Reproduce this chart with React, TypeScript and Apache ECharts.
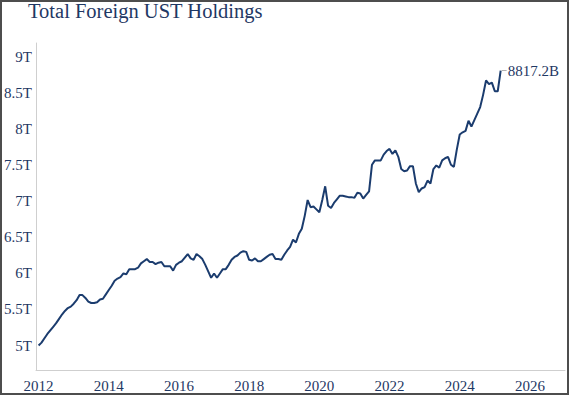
import React, { useEffect, useRef } from "react";
import * as echarts from "echarts";

const TITLE = "Total Foreign UST Holdings";
// First observation: end of Dec 2011, then monthly (month-end) to Feb 2025
const START_YEAR = 2011;
const START_MONTH = 12;
// Total foreign holdings of US Treasuries, trillions USD
const holdingsT = [
  5.0,
  5.04, 5.1, 5.16, 5.21, 5.26, 5.31, 5.37, 5.43, 5.48, 5.52, 5.54, 5.58,
  5.63, 5.7, 5.7, 5.66, 5.61, 5.59, 5.59, 5.6, 5.64, 5.65, 5.71, 5.77,
  5.83, 5.9, 5.93, 5.95, 6.0, 5.99, 6.06, 6.06, 6.06, 6.08, 6.14, 6.17,
  6.2, 6.16, 6.16, 6.13, 6.15, 6.16, 6.1, 6.1, 6.1, 6.04, 6.12, 6.15,
  6.17, 6.22, 6.27, 6.21, 6.19, 6.27, 6.24, 6.2, 6.12, 6.03, 5.94, 6.0,
  5.94, 6.0, 6.06, 6.06, 6.12, 6.19, 6.23, 6.25, 6.29, 6.31, 6.3, 6.19,
  6.18, 6.21, 6.17, 6.17, 6.2, 6.23, 6.26, 6.27, 6.2, 6.2, 6.19, 6.26,
  6.32, 6.37, 6.47, 6.43, 6.55, 6.62, 6.8, 7.02, 6.92, 6.93, 6.89, 6.85,
  7.02, 7.21, 6.94, 6.91, 6.98, 7.03, 7.08, 7.08, 7.07, 7.06, 7.06, 7.05,
  7.12, 7.11, 7.04, 7.09, 7.14, 7.51, 7.57, 7.57, 7.57, 7.65, 7.7, 7.73,
  7.66, 7.71, 7.62, 7.45, 7.42, 7.43, 7.49, 7.49, 7.25, 7.13, 7.18, 7.2,
  7.29, 7.25, 7.45, 7.5, 7.47, 7.57, 7.6, 7.62, 7.51, 7.48, 7.72, 7.93,
  7.96, 7.98, 8.12, 8.04, 8.13, 8.22, 8.31, 8.48, 8.68, 8.63, 8.65, 8.53,
  8.53, 8.8172,
];
const yTicks = [5, 5.5, 6, 6.5, 7, 7.5, 8, 8.5, 9];
const xTicks = [2012, 2014, 2016, 2018, 2020, 2022, 2024, 2026];

const FONT = "Liberation Serif, Times New Roman, serif";
const TEXT_COLOR = "#1f3864";
const LINE_COLOR = "#1b3c6e";

export default function App() {
  const ref = useRef<HTMLDivElement>(null);
  useEffect(() => {
    if (!ref.current) return;
    const chart = echarts.init(ref.current, undefined, { renderer: "svg" });
    const data = holdingsT.map((v, i) => [START_YEAR + (START_MONTH + i) / 12, v]);
    const last = data[data.length - 1];
    chart.setOption({
      animation: false,
      title: {
        text: TITLE,
        left: 28,
        top: 0,
        padding: 0,
        textStyle: { fontFamily: FONT, fontSize: 20.5, fontWeight: "normal", color: TEXT_COLOR },
      },
      grid: { left: 36, right: 5, top: 43, bottom: 26 },
      xAxis: {
        type: "value",
        min: 2011.926,
        max: 2027.0,
        splitLine: { show: false },
        axisLine: { show: true, onZero: false, lineStyle: { color: "#cfcfcf", width: 1 } },
        axisTick: { show: false },
        axisLabel: {
          customValues: xTicks,
          formatter: (v: number) => String(v),
          margin: 8,
          fontFamily: FONT,
          fontSize: 15,
          color: TEXT_COLOR,
        },
      },
      yAxis: {
        type: "value",
        min: 4.66,
        max: 9.2,
        splitLine: { show: false },
        axisLine: { show: true, lineStyle: { color: "#cfcfcf", width: 1 } },
        axisTick: { show: false },
        axisLabel: {
          customValues: yTicks,
          formatter: (v: number) => `${v}T`,
          margin: 4,
          fontFamily: FONT,
          fontSize: 15,
          color: TEXT_COLOR,
        },
      },
      series: [
        {
          type: "line",
          data,
          showSymbol: false,
          symbol: "none",
          lineStyle: { color: LINE_COLOR, width: 2 },
          endLabel: {
            show: true,
            distance: 7,
            formatter: (p: any) => `${(p.value[1] * 1000).toFixed(1)}B`,
            fontFamily: FONT,
            fontSize: 15,
            color: TEXT_COLOR,
          },
          markLine: {
            silent: true,
            symbol: "none",
            label: { show: false },
            lineStyle: { color: "#b0b0b0", width: 1, type: "solid" },
            data: [[{ coord: [last[0] + 0.03, last[1]] }, { coord: [last[0] + 0.17, last[1]] }]],
          },
        },
      ],
      graphic: [
        {
          type: "rect",
          shape: { x: 1, y: 1, width: 567, height: 393 },
          style: { fill: "none", stroke: "#4d4d4d", lineWidth: 2 },
          silent: true,
        },
      ],
    });
    return () => chart.dispose();
  }, []);
  return (
    <div
      ref={ref}
      style={{ position: "fixed", left: 0, top: 0, width: 570, height: 396, background: "#fff" }}
    />
  );
}
